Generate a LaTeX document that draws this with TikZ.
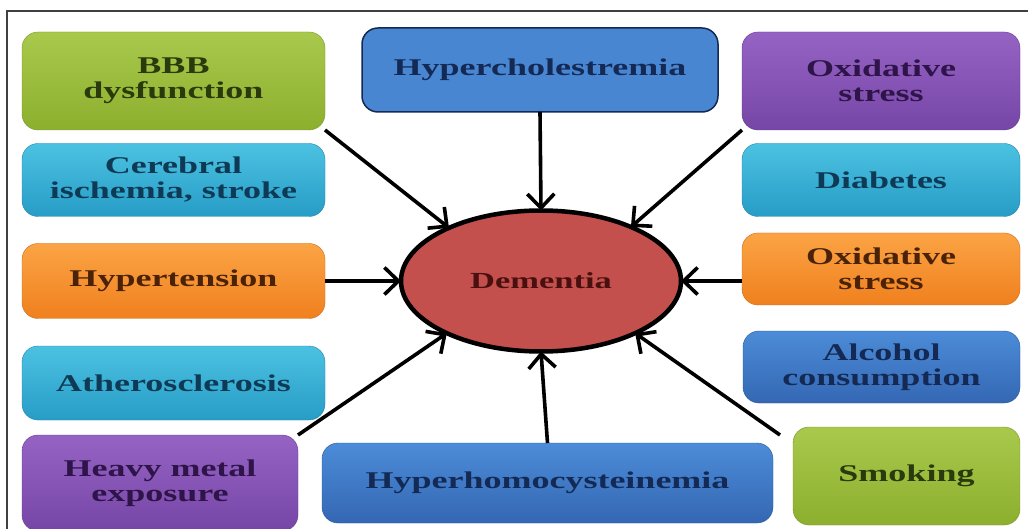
\documentclass[tikz,border=0pt]{standalone}
\usepackage{fontspec}
\setmainfont{Liberation Serif}[FakeStretch=1.5]
\usetikzlibrary{arrows.meta,shapes.geometric}
\definecolor{grT}{HTML}{A8C94C}\definecolor{grB}{HTML}{8DAF2E}\definecolor{grD}{HTML}{2A3A0C}
\definecolor{cyT}{HTML}{4CC2E2}\definecolor{cyB}{HTML}{279CC6}\definecolor{cyD}{HTML}{0E3A55}
\definecolor{orT}{HTML}{FBA445}\definecolor{orB}{HTML}{F0801E}\definecolor{orD}{HTML}{4A2208}
\definecolor{puT}{HTML}{9563C4}\definecolor{puB}{HTML}{7646A6}\definecolor{puD}{HTML}{2E1448}
\definecolor{blT}{HTML}{4C8CD8}\definecolor{blB}{HTML}{3467B3}\definecolor{blD}{HTML}{142A55}
\definecolor{demF}{HTML}{C3504D}\definecolor{demD}{HTML}{4A1010}
\tikzset{
  box/.style={rounded corners=16pt, inner sep=0pt, outer sep=0pt, align=center,
    font=\fontsize{24}{25}\selectfont\bfseries},
  green/.style={box, top color=grT, bottom color=grB, draw=grB!85!black, text=grD},
  cyan/.style={box, top color=cyT, bottom color=cyB, draw=cyB!85!black, text=cyD},
  orange/.style={box, top color=orT, bottom color=orB, draw=orB!85!black, text=orD},
  purple/.style={box, top color=puT, bottom color=puB, draw=puB!85!black, text=puD},
  blue/.style={box, top color=blT, bottom color=blB, draw=blB!85!black, text=blD},
  arr/.style={line width=3.6pt, -{Straight Barb[length=14pt,width=27pt,line width=3.6pt]}},
}
\begin{document}
\begin{tikzpicture}[x=1pt,y=-1pt]
\useasboundingbox (0,0) rectangle (1028,529);
\clip (0,0) rectangle (1028,529);
\fill[white] (0,0) rectangle (1028,529);
\draw[line width=1.5pt, black!75] (7,529) -- (7,11) -- (1028,11);
% left column
\node[green, minimum width=303, minimum height=98] (bbb) at (173.5,81) {BBB\\dysfunction};
\node[cyan, minimum width=303, minimum height=73] (cer) at (173.5,180) {Cerebral\\ischemia, stroke};
\node[orange, minimum width=303, minimum height=75] (ht) at (173.5,281) {Hypertension};
\node[cyan, minimum width=303, minimum height=74] (ath) at (173.5,383) {Atherosclerosis};
\node[purple, minimum width=276, minimum height=96] (hm) at (160,483) {Heavy metal\\exposure};
% middle
\node[box, fill=blT!85!blB, draw=blD, line width=1.5pt, text=blD, minimum width=356, minimum height=84] (hc) at (540,70) {Hypercholestremia};
\node[blue, minimum width=451, minimum height=80] (hh) at (547.5,483) {Hyperhomocysteinemia};
% right column
\node[purple, minimum width=278, minimum height=98] (ox1) at (881,81) {Oxidative\\stress};
\node[cyan, minimum width=278, minimum height=73] (dia) at (881,180) {Diabetes};
\node[orange, minimum width=278, minimum height=72] (ox2) at (881,269) {Oxidative\\stress};
\node[blue, minimum width=277, minimum height=72] (alc) at (881.5,367) {Alcohol\\consumption};
\node[green, minimum width=227, minimum height=98] (smk) at (906.5,476) {Smoking};
% centre
\node[ellipse, draw=black, line width=4.5pt, fill=demF, text=demD, inner sep=0pt, outer sep=0pt,
  minimum width=280, minimum height=141, font=\fontsize{23}{25}\selectfont\bfseries] (dem) at (541,281) {Dementia};
% connectors
\draw[arr] (bbb.south east) -- (dem.150);
\draw[arr] (hc.south) -- (dem.90);
\draw[arr] (ox1.south west) -- (dem.31);
\draw[arr] (ht.east) -- (dem.west);
\draw[arr] (ox2.west |- dem.east) -- (dem.east);
\draw[arr] (hm.north east) -- (dem.209);
\draw[arr] (hh.north) -- (dem.270);
\draw[arr] ([shift={(-13,8)}]smk.north west) -- (dem.331);
\end{tikzpicture}
\end{document}
